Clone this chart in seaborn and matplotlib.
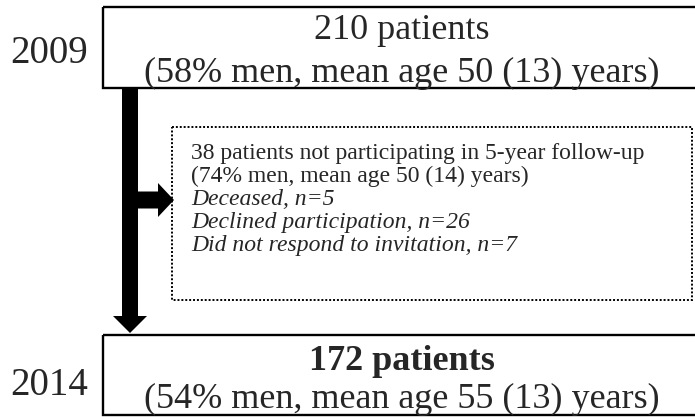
import matplotlib
matplotlib.use("Agg")
import matplotlib.pyplot as plt
import seaborn as sns
from matplotlib.patches import Rectangle, FancyArrow

# flowchart content
years = ["2009", "2014"]
top_lines = ["210 patients", "(58% men, mean age 50 (13) years)"]
bottom_lines = ["172 patients", "(54% men, mean age 55 (13) years)"]
dropout_lines = [
    "38 patients not participating in 5-year follow-up",
    "(74% men, mean age 50 (14) years)",
    "Deceased, n=5",
    "Declined participation, n=26",
    "Did not respond to invitation, n=7",
]
dropout_italic = [False, False, True, True, True]

sns.set_style("white")
plt.rcParams['font.family'] = ['Liberation Serif', 'DejaVu Serif']

fig = plt.figure(figsize=(6.95, 4.17), dpi=100)
ax = fig.add_axes([0, 0, 1, 1])
ax.set_xlim(0, 695)
ax.set_ylim(417, 0)
ax.axis("off")

# boxes
ax.add_patch(Rectangle((103, 7), 600, 81, fill=False, lw=1.7, ec="black"))
ax.add_patch(Rectangle((103, 335), 600, 80, fill=False, lw=1.7, ec="black"))
ax.add_patch(Rectangle((172, 127), 520, 173, fill=False, lw=1.4, ec="black",
                       linestyle=(0, (1, 1))))

# arrows
ax.add_patch(FancyArrow(130, 88, 0, 245, width=16, head_width=34, head_length=17,
                        length_includes_head=True, color="black", lw=0))
ax.add_patch(FancyArrow(130, 200, 44, 0, width=17, head_width=34, head_length=16,
                        length_includes_head=True, color="black", lw=0))

# years
ax.text(10, 63, years[0], fontsize=28, va="baseline", ha="left")
ax.text(10, 395, years[1], fontsize=28, va="baseline", ha="left")

# top box text
ax.text(402, 39, top_lines[0], fontsize=26, ha="center", va="baseline")
ax.text(402, 82, top_lines[1], fontsize=26, ha="center", va="baseline")

# bottom box text
ax.text(402, 370, bottom_lines[0], fontsize=26, ha="center", va="baseline",
        fontweight="bold")
ax.text(402, 408, bottom_lines[1], fontsize=26, ha="center", va="baseline")

# dropout text
for i, (line, it) in enumerate(zip(dropout_lines, dropout_italic)):
    ax.text(191, 159 + 23 * i, line, fontsize=17, ha="left", va="baseline",
            style="italic" if it else "normal")

fig.savefig("out.png", dpi=100)
